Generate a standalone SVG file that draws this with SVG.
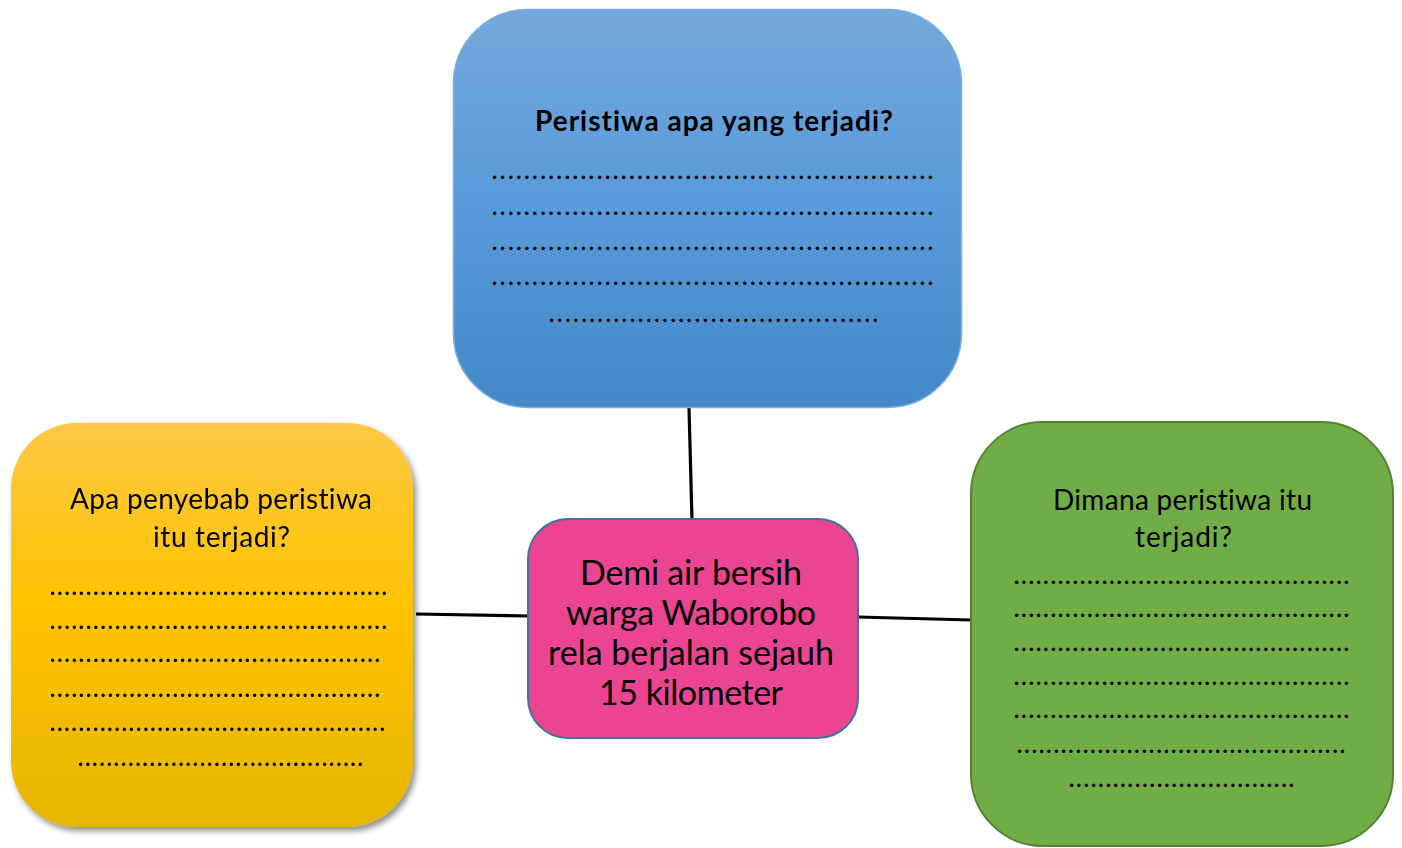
<svg xmlns="http://www.w3.org/2000/svg" width="1402" height="848" viewBox="0 0 1402 848">
<defs>
<linearGradient id="gBlue" x1="0" y1="0" x2="0" y2="1">
<stop offset="0" stop-color="#74a8dc"/>
<stop offset="0.5" stop-color="#589ad9"/>
<stop offset="1" stop-color="#4488c8"/>
</linearGradient>
<linearGradient id="gYellow" x1="0" y1="0" x2="0" y2="1">
<stop offset="0" stop-color="#fec845"/>
<stop offset="0.45" stop-color="#ffc300"/>
<stop offset="1" stop-color="#e5b600"/>
</linearGradient>
<filter id="shadow" x="-10%" y="-10%" width="125%" height="125%">
<feGaussianBlur in="SourceAlpha" stdDeviation="3"/>
<feOffset dx="3" dy="4" result="b"/>
<feComponentTransfer><feFuncA type="linear" slope="0.45"/></feComponentTransfer>
<feMerge><feMergeNode/><feMergeNode in="SourceGraphic"/></feMerge>
</filter>
<style>
text{font-family:Lato,"Open Sans","Liberation Sans",sans-serif;fill:#000;font-variant-ligatures:none;font-feature-settings:"liga" 0;}
.t{font-size:28px;text-anchor:middle;}
.tb{font-size:28px;font-weight:bold;text-anchor:middle;}
.c{font-size:34px;text-anchor:middle;}
.d{font-size:22px;font-weight:bold;}
.conn{stroke:#000;stroke-width:3.2;fill:none;}
</style>
</defs>
<rect width="1402" height="848" fill="#fff"/>
<g id="connectors">
<line class="conn" x1="689" y1="408" x2="692" y2="520"/>
<line class="conn" x1="416" y1="614" x2="528" y2="616"/>
<line class="conn" x1="858" y1="617" x2="971" y2="620"/>
</g>
<g id="node-top">
<rect x="453.5" y="9.5" width="508" height="398" rx="74" fill="url(#gBlue)" stroke="#7aaee0" stroke-width="1.5"/>
<text class="tb" x="714" y="131" textLength="358">Peristiwa apa yang terjadi?</text>
<text class="d" x="492" y="179" textLength="441">.......................................................</text>
<text class="d" x="492" y="215" textLength="441">.......................................................</text>
<text class="d" x="492" y="250" textLength="441">.......................................................</text>
<text class="d" x="492" y="285" textLength="441">.......................................................</text>
<text class="d" x="549" y="322" textLength="329">.........................................</text>
</g>
<g id="node-left" filter="url(#shadow)">
<rect x="11" y="423" width="402" height="404" rx="66" fill="url(#gYellow)"/>
<text class="t" x="221" y="509" textLength="302">Apa penyebab peristiwa</text>
<text class="t" x="221.5" y="547" textLength="137">itu terjadi?</text>
<text class="d" x="50" y="595" textLength="337">...............................................</text>
<text class="d" x="50" y="629" textLength="337">...............................................</text>
<text class="d" x="50" y="662" textLength="330">..............................................</text>
<text class="d" x="50" y="697" textLength="330">..............................................</text>
<text class="d" x="50" y="731" textLength="335">...............................................</text>
<text class="d" x="78" y="766" textLength="285">........................................</text>
</g>
<g id="node-right">
<rect x="971" y="422" width="422" height="424" rx="72" fill="#70ad47" stroke="#548235" stroke-width="2"/>
<text class="t" x="1182.5" y="510" textLength="259">Dimana peristiwa itu</text>
<text class="t" x="1183.5" y="547" textLength="97">terjadi?</text>
<text class="d" x="1014" y="584" textLength="335">..............................................</text>
<text class="d" x="1014" y="617" textLength="335">..............................................</text>
<text class="d" x="1014" y="651" textLength="335">..............................................</text>
<text class="d" x="1014" y="685" textLength="335">..............................................</text>
<text class="d" x="1014" y="718" textLength="335">..............................................</text>
<text class="d" x="1017" y="753" textLength="328">.............................................</text>
<text class="d" x="1069" y="787" textLength="225">...............................</text>
</g>
<g id="node-center">
<rect x="528" y="519" width="330" height="219" rx="40" fill="#eb4591" stroke="#41719c" stroke-width="2"/>
<text class="c" x="691" y="585" textLength="222">Demi air bersih</text>
<text class="c" x="691" y="625" textLength="250">warga Waborobo</text>
<text class="c" x="691" y="665" textLength="286">rela berjalan sejauh</text>
<text class="c" x="691" y="705" textLength="184">15 kilometer</text>
</g>
</svg>
